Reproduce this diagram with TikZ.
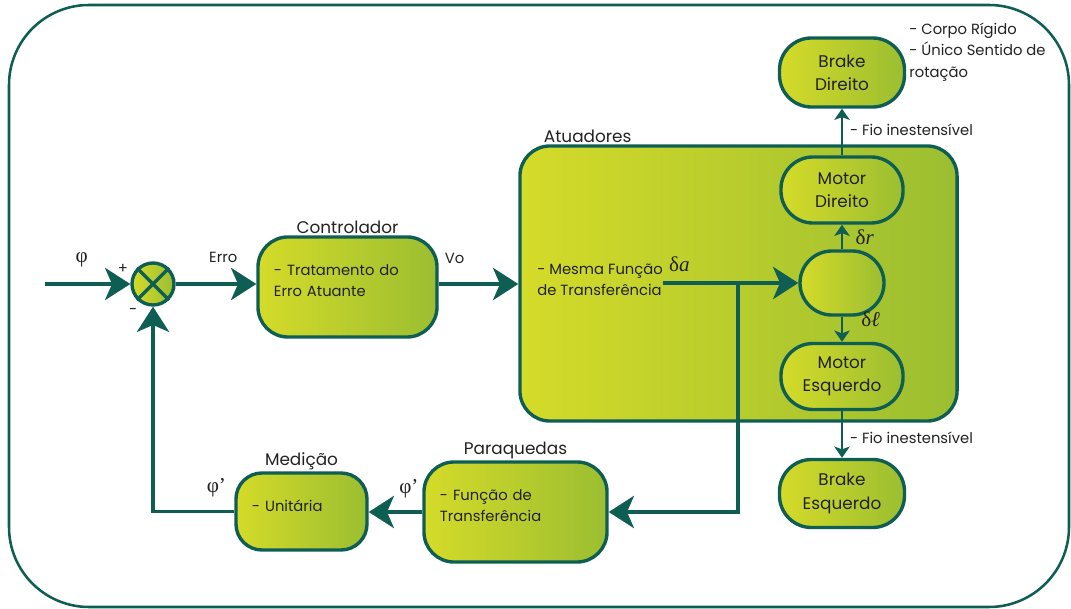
\documentclass[tikz,border=0pt]{standalone}
\usepackage{fontspec}
\setmainfont{Poppins}
\newfontfamily\serifa{Liberation Serif}
\usetikzlibrary{arrows.meta,positioning}
\definecolor{verdeEsc}{HTML}{0E5E54}
\definecolor{limaClaro}{HTML}{D5DB29}
\definecolor{limaEsc}{HTML}{9BBE31}
\definecolor{texto}{HTML}{222222}
\newcommand{\sobe}{\par\vspace{8.5pt}}
\begin{document}
\begin{tikzpicture}[x=0.025cm, y=-0.025cm,
    bloco/.style={draw=verdeEsc, line width=2.4pt, left color=limaClaro, right color=limaEsc, rounded corners=0.75cm, text=texto},
    caixa/.style={bloco, align=left, inner xsep=0.4cm, font=\fontsize{10.5}{15}\selectfont},
    pilula/.style={bloco, align=center, rounded corners=0.8cm, font=\fontsize{12}{16.5}\selectfont},
    titulo/.style={text=texto, font=\fontsize{12}{14}\selectfont, inner sep=1pt},
    nota/.style={text=texto, font=\fontsize{10.5}{15}\selectfont, align=left, inner sep=0pt},
    sinal/.style={text=texto, font=\serifa\fontsize{15}{17}\selectfont, inner sep=1pt},
    fluxo/.style={draw=verdeEsc, line width=2.3pt, -{Stealth[length=18pt, width=23pt, inset=5pt]}},
    fio/.style={draw=verdeEsc, line width=1.4pt, -{Stealth[length=8pt, width=11pt, inset=2pt]}}]
    \useasboundingbox (0,0) rectangle (1071,609);
    \draw[verdeEsc, line width=1.8pt, rounded corners=2cm] (9,5) rectangle (1069,607);

    % atuadores (fundo)
    \node[bloco, minimum width=10.925cm, minimum height=6.875cm,
        label={[titulo, anchor=south west, xshift=0.6cm]north west:Atuadores}] (atu) at (738.5,283.5) {};
    \node[nota, anchor=west] (atuTxt) at (537,280) {- Mesma Função\\de Transferência};

    \node[circle, draw=verdeEsc, line width=2.4pt, left color=limaClaro, right color=limaEsc,
        minimum size=1.05cm, inner sep=0pt,
        label={[nota, label distance=3pt]157:+}, label={[nota, label distance=4pt]237:-}] (soma) at (153,284) {};
    \draw[verdeEsc, line width=2.4pt] (soma.north west) -- (soma.south east) (soma.north east) -- (soma.south west);

    \node[caixa, text width=3.675cm, minimum height=2.5cm, label={[titulo]above:Controlador}] (ctrl) at (347.5,287) {- Tratamento do\\Erro Atuante\sobe};
    \node[bloco, minimum width=2.1cm, minimum height=1.6cm, rounded corners=0.8cm] (dist) at (842,283) {};
    \node[pilula, minimum width=3.05cm, minimum height=1.65cm] (motD) at (842,190) {Motor\\Direito};
    \node[pilula, minimum width=3.05cm, minimum height=1.65cm] (motE) at (842,376.5) {Motor\\Esquerdo};
    \node[pilula, minimum width=3.125cm, minimum height=1.725cm] (brkD) at (842,72.5) {Brake\\Direito};
    \node[pilula, minimum width=3.125cm, minimum height=1.7cm] (brkE) at (842,493.5) {Brake\\Esquerdo};
    \node[caixa, text width=3.775cm, minimum height=2.5cm, label={[titulo]above:Paraquedas}] (para) at (515.5,512) {- Função de\\Transferência\sobe};
    \node[caixa, text width=2.475cm, minimum height=1.925cm, rounded corners=0.65cm, label={[titulo]above:Medição}] (med) at (301.5,511.5) {- Unitária\sobe};
    \node[nota, anchor=north west] (notas) at (909,23) {- Corpo Rígido\\- Único Sentido de\\rotação};

    \coordinate (entrada) at (45,284);
    \coordinate (ramal) at (738,283);

    \draw[fluxo] (entrada) -- (soma) node[sinal, pos=0.43, above=10pt] {φ};
    \draw[fluxo] (soma) -- (soma -| ctrl.west) node[nota, pos=0.59, above=14pt] {Erro};
    \draw[fluxo] (ctrl.east |- soma) -- (atu.west |- soma) node[nota, pos=0.2, above=13.5pt] {Vo};
    \draw[fluxo] (atuTxt.east |- dist) -- (dist) node[sinal, pos=0.12, above=6pt] {δ\textit{a}};
    \draw[fluxo] (ramal) |- (para.east);
    \draw[fio] (dist) -- (motD) node[sinal, pos=0.5, right=8pt] {δ\textit{r}};
    \draw[fio] (dist) -- (motE) node[sinal, pos=0.12, right=12pt] {δ\textit{ℓ}};
    \draw[fio] (motD) -- (brkD) node[nota, pos=0.54, right=5pt] {- Fio inestensível};
    \draw[fio] (motE) -- (brkE) node[nota, pos=0.58, right=5pt] {- Fio inestensível};
    \draw[fluxo] (para.west) -- (med.east |- para.west) node[sinal, pos=0.25, above=8pt] {φ’};
    \draw[fluxo] (med.west) -| (soma.south) node[sinal, pos=0.11, above=8pt] {φ’};
\end{tikzpicture}
\end{document}
